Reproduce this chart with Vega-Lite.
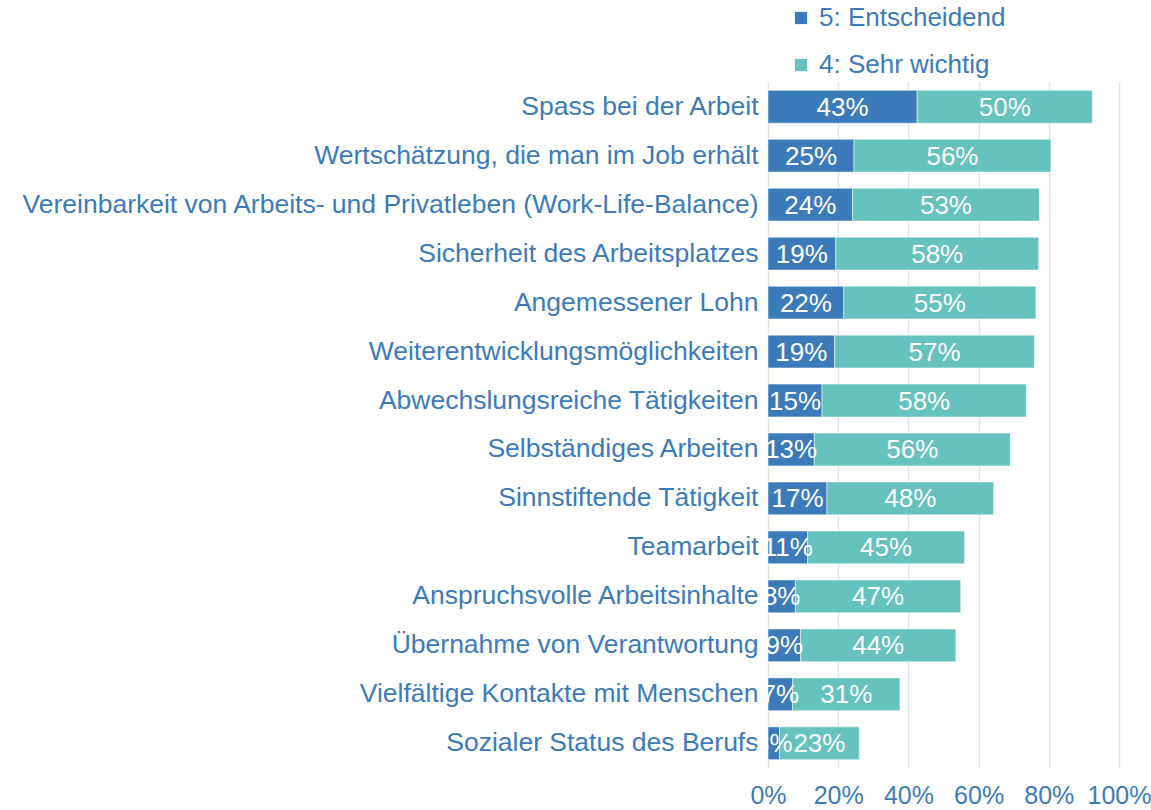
{
  "$schema": "https://vega.github.io/schema/vega-lite/v6.json",
  "autosize": {"type": "none"},
  "width": 351,
  "height": 686,
  "padding": {"left": 768, "top": 82, "right": 32, "bottom": 42},
  "background": "white",
  "config": {
    "font": "Liberation Sans",
    "view": {"stroke": null}
  },
  "data": {
    "values": [
      {"item": "Spass bei der Arbeit", "level": "5: Entscheidend", "k": 1, "v": 0.425},
      {"item": "Spass bei der Arbeit", "level": "4: Sehr wichtig", "k": 2, "v": 0.499},
      {"item": "Wertschätzung, die man im Job erhält", "level": "5: Entscheidend", "k": 1, "v": 0.245},
      {"item": "Wertschätzung, die man im Job erhält", "level": "4: Sehr wichtig", "k": 2, "v": 0.561},
      {"item": "Vereinbarkeit von Arbeits- und Privatleben (Work-Life-Balance)", "level": "5: Entscheidend", "k": 1, "v": 0.241},
      {"item": "Vereinbarkeit von Arbeits- und Privatleben (Work-Life-Balance)", "level": "4: Sehr wichtig", "k": 2, "v": 0.532},
      {"item": "Sicherheit des Arbeitsplatzes", "level": "5: Entscheidend", "k": 1, "v": 0.193},
      {"item": "Sicherheit des Arbeitsplatzes", "level": "4: Sehr wichtig", "k": 2, "v": 0.578},
      {"item": "Angemessener Lohn", "level": "5: Entscheidend", "k": 1, "v": 0.216},
      {"item": "Angemessener Lohn", "level": "4: Sehr wichtig", "k": 2, "v": 0.547},
      {"item": "Weiterentwicklungsmöglichkeiten", "level": "5: Entscheidend", "k": 1, "v": 0.19},
      {"item": "Weiterentwicklungsmöglichkeiten", "level": "4: Sehr wichtig", "k": 2, "v": 0.569},
      {"item": "Abwechslungsreiche Tätigkeiten", "level": "5: Entscheidend", "k": 1, "v": 0.154},
      {"item": "Abwechslungsreiche Tätigkeiten", "level": "4: Sehr wichtig", "k": 2, "v": 0.582},
      {"item": "Selbständiges Arbeiten", "level": "5: Entscheidend", "k": 1, "v": 0.132},
      {"item": "Selbständiges Arbeiten", "level": "4: Sehr wichtig", "k": 2, "v": 0.558},
      {"item": "Sinnstiftende Tätigkeit", "level": "5: Entscheidend", "k": 1, "v": 0.168},
      {"item": "Sinnstiftende Tätigkeit", "level": "4: Sehr wichtig", "k": 2, "v": 0.475},
      {"item": "Teamarbeit", "level": "5: Entscheidend", "k": 1, "v": 0.113},
      {"item": "Teamarbeit", "level": "4: Sehr wichtig", "k": 2, "v": 0.447},
      {"item": "Anspruchsvolle Arbeitsinhalte", "level": "5: Entscheidend", "k": 1, "v": 0.078},
      {"item": "Anspruchsvolle Arbeitsinhalte", "level": "4: Sehr wichtig", "k": 2, "v": 0.471},
      {"item": "Übernahme von Verantwortung", "level": "5: Entscheidend", "k": 1, "v": 0.093},
      {"item": "Übernahme von Verantwortung", "level": "4: Sehr wichtig", "k": 2, "v": 0.442},
      {"item": "Vielfältige Kontakte mit Menschen", "level": "5: Entscheidend", "k": 1, "v": 0.07},
      {"item": "Vielfältige Kontakte mit Menschen", "level": "4: Sehr wichtig", "k": 2, "v": 0.306},
      {"item": "Sozialer Status des Berufs", "level": "5: Entscheidend", "k": 1, "v": 0.033},
      {"item": "Sozialer Status des Berufs", "level": "4: Sehr wichtig", "k": 2, "v": 0.227}
    ]
  },
  "encoding": {
    "y": {
      "field": "item",
      "type": "nominal",
      "sort": null,
      "scale": {"paddingInner": 0.33, "paddingOuter": 0.17},
      "axis": {
        "title": null,
        "domain": false,
        "ticks": false,
        "labelFontSize": 26.5,
        "labelColor": "#3C7BB9",
        "labelPadding": 10,
        "labelLimit": 800
      }
    },
    "x": {
      "field": "v",
      "type": "quantitative",
      "stack": "zero",
      "scale": {"domain": [0, 1], "nice": false},
      "axis": {
        "title": null,
        "format": ".0%",
        "values": [0, 0.2, 0.4, 0.6, 0.8, 1],
        "domain": false,
        "ticks": false,
        "grid": true,
        "gridColor": "#DCE6F2",
        "gridWidth": 1.5,
        "labelFontSize": 25,
        "labelColor": "#3C7BB9",
        "labelPadding": 15,
        "labelFlush": false
      }
    },
    "order": {"field": "k", "type": "quantitative"}
  },
  "layer": [
    {
      "mark": {"type": "bar", "stroke": "white", "strokeWidth": 0.5},
      "encoding": {
        "color": {
          "field": "level",
          "type": "nominal",
          "scale": {"domain": ["5: Entscheidend", "4: Sehr wichtig"], "range": ["#3C7BB9", "#66C2BC"]},
          "legend": {
            "title": null,
            "orient": "none",
            "legendX": 20,
            "legendY": -77,
            "direction": "vertical",
            "symbolType": "square",
            "symbolSize": 150,
            "symbolStrokeWidth": 0,
            "labelFontSize": 26,
            "labelColor": "#3C7BB9",
            "labelOffset": 5,
            "labelLimit": 400,
            "rowPadding": 21
          }
        }
      }
    },
    {
      "mark": {"type": "text", "color": "white", "fontSize": 26, "align": "center", "baseline": "middle", "dy": 1},
      "encoding": {
        "x": {"field": "v", "type": "quantitative", "stack": "zero", "bandPosition": 0.5},
        "text": {"field": "v", "type": "quantitative", "format": ".0%"}
      }
    }
  ]
}
